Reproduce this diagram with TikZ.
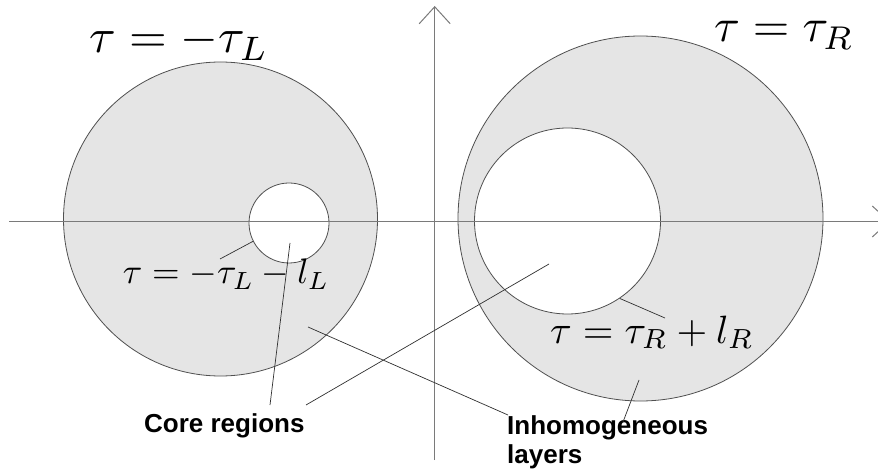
\documentclass[tikz,border=0pt]{standalone}
\usepackage{fontspec}
\newfontfamily\labelfont{Liberation Sans}
\usetikzlibrary{arrows.meta}
\definecolor{shade}{HTML}{E5E5E5}
\definecolor{outline}{HTML}{505050}
\definecolor{axisgray}{HTML}{7A7A7A}
\definecolor{leadergray}{HTML}{303030}
\begin{document}
\begin{tikzpicture}[x=1pt,y=-1pt,
  region/.style={circle, draw=outline, line width=0.8pt, inner sep=0pt},
  leader/.style={draw=leadergray, line width=0.7pt},
  axis/.style={draw=axisgray, line width=1.3pt,
    -{Straight Barb[length=17pt,width=31pt,line width=1pt]}},
  mathlabel/.style={inner sep=0pt, anchor=base},
  wordlabel/.style={inner sep=0pt, anchor=base west, align=left,
    font=\labelfont\bfseries\fontsize{26}{29}\selectfont}]
\clip (0,0) rectangle (878,470);
\useasboundingbox (0,0) rectangle (878,470);
% regions
\node[region, fill=shade, minimum size=314pt] (Lout) at (220.5,219) {};
\node[region, fill=white, minimum size=80pt] (Lin) at (289,223) {};
\node[region, fill=shade, minimum size=365pt] (Rout) at (640.5,218.5) {};
\node[region, fill=white, minimum size=186pt] (Rin) at (567.5,221) {};
% axes
\coordinate (hS) at (9,221.5);
\coordinate (hE) at (890,221.5);
\coordinate (vS) at (434.7,460);
\coordinate (vE) at (434.7,6);
\draw[axis] (hS) -- (hE);
\draw[axis] (vS) -- (vE);
% labels
\node[mathlabel, scale=4.85] (tl) at (179,53) {$\tau=-\tau_L$};
\node[mathlabel, scale=4.7] (tr) at (784,42) {$\tau=\tau_R$};
\node[mathlabel, scale=3.55] (bl) at (226,284) {$\tau=-\tau_L-l_L$};
\node[mathlabel, scale=3.95] (br) at (652,343) {$\tau=\tau_R+l_R$};
\node[wordlabel] (core) at (144,432) {Core regions};
\node[wordlabel] (inh) at (507,463) {Inhomogeneous\\layers};
% leader ends
\coordinate (blA) at (220,259);
\coordinate (brA) at (665,318);
\coordinate (coreA) at (270,405);
\coordinate (coreL) at (290,243);
\coordinate (coreB) at (306,405);
\coordinate (coreR) at (549,264);
\coordinate (inhA) at (508,415);
\coordinate (layL) at (308,327);
\coordinate (inhB) at (623,422);
\coordinate (layR) at (639,380);
% leaders
\draw[leader] (blA) -- (Lin.207);
\draw[leader] (brA) -- (Rin.304);
\draw[leader] (coreA) -- (coreL);
\draw[leader] (coreB) -- (coreR);
\draw[leader] (inhA) -- (layL);
\draw[leader] (inhB) -- (layR);
\end{tikzpicture}
\end{document}
